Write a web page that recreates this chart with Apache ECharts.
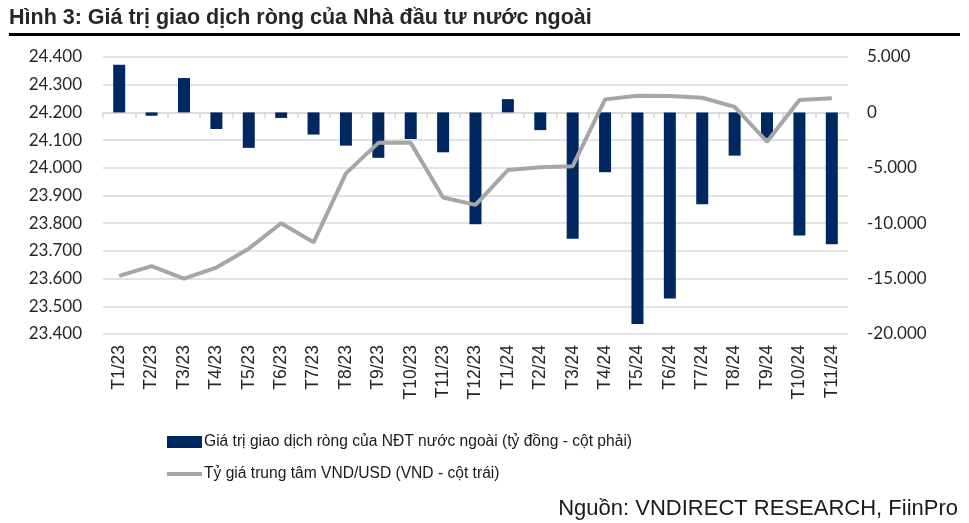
<!DOCTYPE html>
<html><head><meta charset="utf-8">
<script src="https://cdn.jsdelivr.net/npm/echarts@6/dist/echarts.min.js"></script>
<style>html,body{margin:0;padding:0;background:#fff}#c{width:969px;height:523px}</style>
</head><body><div id="c"></div>
<script>
var categories = ["T1/23","T2/23","T3/23","T4/23","T5/23","T6/23","T7/23","T8/23","T9/23","T10/23","T11/23","T12/23","T1/24","T2/24","T3/24","T4/24","T5/24","T6/24","T7/24","T8/24","T9/24","T10/24","T11/24"];
var netFlow = [4300,-300,3100,-1500,-3200,-500,-2000,-3000,-4100,-2400,-3600,-10100,1200,-1600,-11400,-5400,-19100,-16800,-8300,-3900,-2300,-11100,-11900];
var fxRate = [23610,23645,23600,23640,23708,23800,23731,23980,24090,24090,23893,23866,23992,24002,24006,24247,24260,24259,24253,24220,24094,24245,24251];
var leftTicks = [23400,24400,100];
var rightTicks = [-20000,5000,5000];
var seriesNames = ["Giá trị giao dịch ròng của NĐT nước ngoài (tỷ đồng - cột phải)","Tỷ giá trung tâm VND/USD (VND - cột trái)"];
var titleText = "Hình 3: Giá trị giao dịch ròng của Nhà đầu tư nước ngoài";
var sourceText = "Nguồn: VNDIRECT RESEARCH, FiinPro";

var SANS = '"Liberation Sans", Arial';
function fmt(v){
  var s = Math.abs(v).toString().replace(/\B(?=(\d{3})+(?!\d))/g, ".");
  return (v < 0 ? "-" : "") + s;
}
var chart = echarts.init(document.getElementById('c'));
chart.setOption({
  animation:false,
  graphic:[
    {type:'text', left:9, top:7, style:{text:titleText, font:'bold 21.5px "Liberation Sans", Arial', fill:'#262626'}},
    {type:'rect', shape:{x:9,y:33,width:951,height:3}, style:{fill:'#000'}},
    {type:'text', right:11, top:498, style:{text:sourceText, font:'22px "Liberation Sans", Arial', fill:'#1a1a1a'}}
  ],
  legend:{
    orient:'vertical', left:165, top:431, padding:0, itemWidth:35, itemHeight:12, itemGap:10,
    textStyle:{fontFamily:SANS, fontSize:15.6, color:'#1a1a1a', lineHeight:22, padding:[0,0,0,-3]},
    data:[
      {name:seriesNames[0], icon:'rect'},
      {name:seriesNames[1], lineStyle:{width:4, color:'#a6a6a6'}, itemStyle:{color:'rgba(0,0,0,0)', borderColor:'rgba(0,0,0,0)', borderWidth:0}}
    ]
  },
  grid:{left:103, right:121, top:57, bottom:189},
  xAxis:{
    type:'category', data:categories, boundaryGap:true,
    axisLine:{lineStyle:{color:'#d9d9d9', width:1.5}},
    axisTick:{show:true, length:6, interval:0, lineStyle:{color:'#d9d9d9', width:1.5}},
    axisLabel:{rotate:90, interval:0, fontFamily:SANS, fontSize:17.5, color:'#262626', margin:11}
  },
  yAxis:[
    {type:'value', min:leftTicks[0], max:leftTicks[1], interval:leftTicks[2], position:'left',
     axisLine:{show:false}, axisTick:{show:false},
     splitLine:{lineStyle:{color:'#d9d9d9', width:1.5}},
     axisLabel:{formatter:fmt, fontFamily:'Lato', fontSize:17, color:'#262626', margin:21}},
    {type:'value', min:rightTicks[0], max:rightTicks[1], interval:rightTicks[2], position:'right',
     axisLine:{show:false}, axisTick:{show:false}, splitLine:{show:false},
     axisLabel:{formatter:fmt, fontFamily:'Lato', fontSize:17, color:'#262626', margin:19}}
  ],
  series:[
    {name:seriesNames[0], type:'bar', yAxisIndex:1, data:netFlow, barWidth:12, itemStyle:{color:'#002860'}},
    {name:seriesNames[1], type:'line', yAxisIndex:0, data:fxRate, symbol:'none', showSymbol:false,
     lineStyle:{color:'#a6a6a6', width:4}, itemStyle:{color:'#a6a6a6'}}
  ]
});
</script></body></html>
